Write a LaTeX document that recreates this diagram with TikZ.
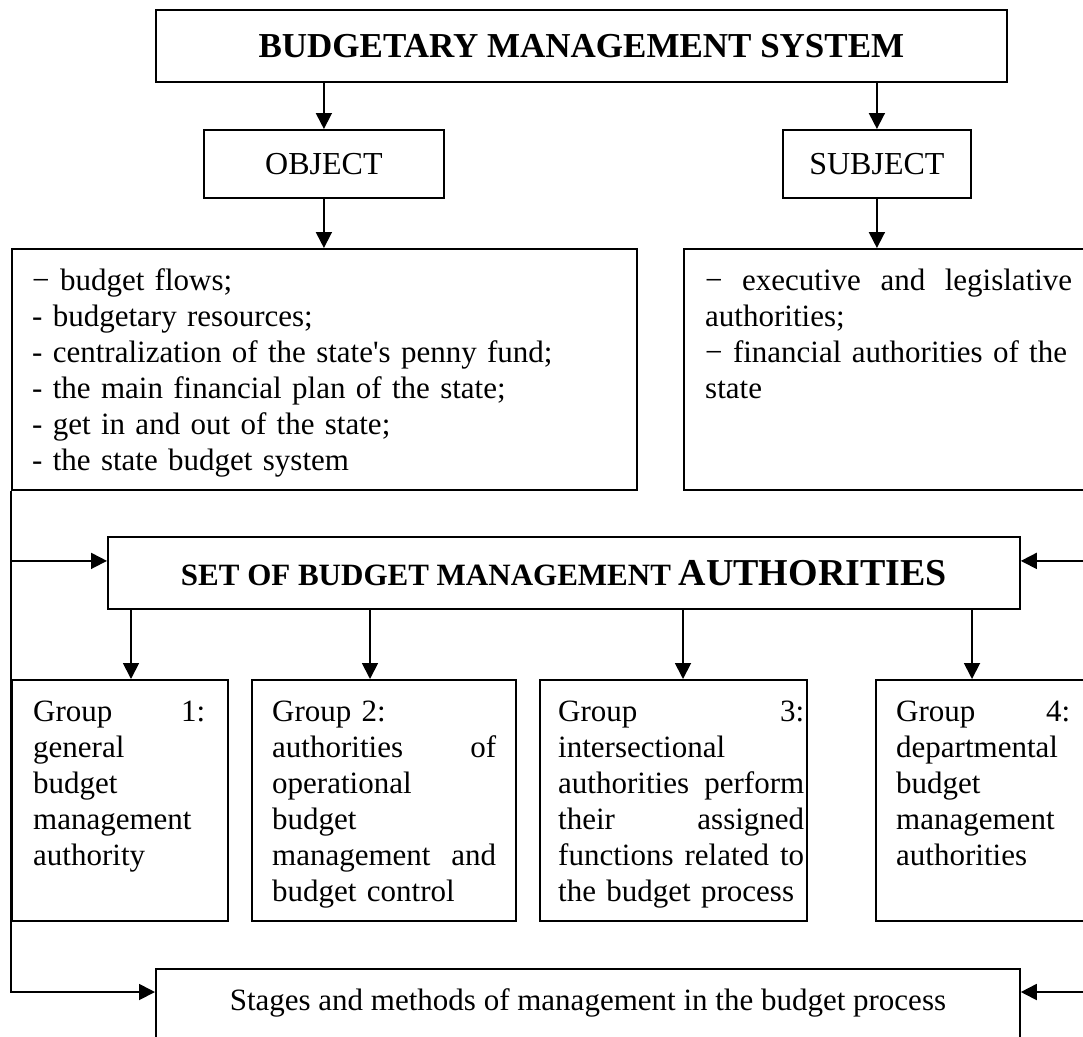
\documentclass[tikz,border=0pt]{standalone}
\usepackage{fontspec}
\setmainfont{Liberation Serif}
\usetikzlibrary{arrows.meta, positioning}
\newcommand{\bodyfont}{\fontsize{31}{36}\selectfont}
\tikzset{
    box/.style={draw=black, line width=1.8pt, inner sep=0pt, anchor=north west},
    txt/.style={anchor=north west, inner sep=0pt, align=left, font=\bodyfont},
    head/.style={box, font=\fontsize{35}{40}\selectfont\bfseries},
    tag/.style={box, font=\fontsize{32}{36}\selectfont},
    arr/.style={-{Triangle[length=16pt, width=16pt]}, line width=1.8pt},
    link/.style={line width=1.8pt}
}

\begin{document}
\begin{tikzpicture}[x=1pt, y=-1pt]
    \useasboundingbox (0,0) rectangle (1083,1036);
    \clip (0,0) rectangle (1083,1036);
    % top level
    \node[head, minimum width=851pt, minimum height=72pt] (title) at (155,9) {BUDGETARY MANAGEMENT SYSTEM};
    \node[tag, minimum width=240pt, minimum height=68pt] (obj) at (203,129) {OBJECT};
    \node[tag, minimum width=188pt, minimum height=68pt] (subj) at (782,129) {SUBJECT};
    % lists
    \node[box, minimum width=625pt, minimum height=241pt] (objlist) at (11,248) {};
    \node[box, minimum width=403pt, minimum height=241pt] (subjlist) at (683,248) {};
    \node[txt, text width=590pt] (objtxt) at (32,265) {\strut − budget flows;\\
        - budgetary resources;\\
        - centralization of the state\textquotesingle s penny fund;\\
        - the main financial plan of the state;\\
        - get in and out of the state;\\
        - the state budget system};
    \node[txt, text width=367pt] (subjtxt) at (705,265) {\strut −\hfill executive\hfill and\hfill legislative\\
        authorities;\\
        − financial authorities of the\\
        state};
    % authorities
    \node[head, font=\fontsize{31}{38}\selectfont\bfseries, minimum width=912pt, minimum height=72pt] (setbox) at (107,536)
        {SET OF BUDGET MANAGEMENT {\fontsize{38}{40}\selectfont AUTHORITIES}};
    % groups
    \node[box, minimum width=216pt, minimum height=241pt] (grpA) at (11,679) {};
    \node[box, minimum width=264pt, minimum height=241pt] (grpB) at (251,679) {};
    \node[box, minimum width=267pt, minimum height=241pt] (grpC) at (539,679) {};
    \node[box, minimum width=211pt, minimum height=241pt] (grpD) at (875,679) {};
    \node[txt, text width=172pt] (grpAtxt) at (33,696) {\strut Group\hfill 1:\\
        general\\ budget\\ management\\ authority};
    \node[txt, text width=224pt] (grpBtxt) at (272,696) {\strut Group 2:\\
        authorities\hfill of\\ operational\\ budget\\ management\hfill and\\ budget control};
    \node[txt, text width=246pt] (grpCtxt) at (558,696) {\strut Group\hfill 3:\\
        intersectional\\ authorities\hfill perform\\ their\hfill assigned\\ functions\hfill related\hfill to\\ the budget process};
    \node[txt, text width=174pt] (grpDtxt) at (896,696) {\strut Group\hfill 4:\\
        departmental\\ budget\\ management\\ authorities};
    % stages
    \node[box, minimum width=864pt, minimum height=82pt] (stages) at (155,968) {};
    \node[txt, anchor=north, align=center] (stagestxt) at ([yshift=-17pt]stages.north)
        {\strut Stages and methods of management in the budget process};
    % connectors
    \coordinate (setL) at ([yshift=12pt]setbox.west);
    \coordinate (setR) at ([yshift=12pt]setbox.east);
    \coordinate (stgL) at ([yshift=-24pt]stages.north west);
    \coordinate (stgR) at ([yshift=-24pt]stages.north east);
    \draw[arr] (obj.north |- title.south) -- (obj.north);
    \draw[arr] (subj.north |- title.south) -- (subj.north);
    \draw[arr] (obj.south) -- (obj.south |- objlist.north);
    \draw[arr] (subj.south) -- (subj.south |- subjlist.north);
    \draw[arr] (objlist.south west) |- (stgL);
    \draw[arr] (objlist.south west |- setL) -- (setL);
    \draw[arr] (subjlist.south east) |- (stgR);
    \draw[arr] (subjlist.south east |- setR) -- (setR);
    \foreach \gx/\g in {131/grpA, 370/grpB, 683/grpC, 972/grpD}
        \draw[arr] (\gx,0 |- setbox.south) -- (\gx,0 |- \g.north);
\end{tikzpicture}
\end{document}
